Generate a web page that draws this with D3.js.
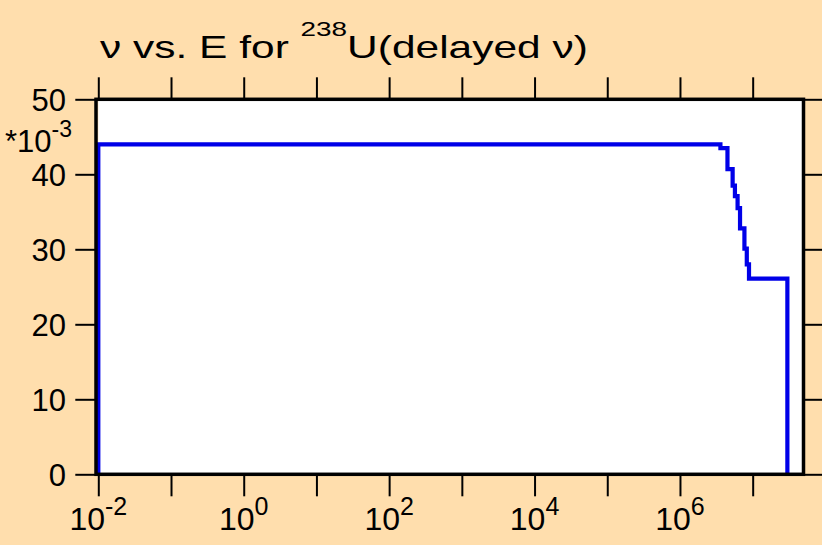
<!DOCTYPE html>
<html>
<head>
<meta charset="utf-8">
<script src="https://cdn.jsdelivr.net/npm/d3@7"></script>
<style>
  body { margin: 0; background: #FFDEAD; }
  text { font-family: "Liberation Sans", Arial, sans-serif; fill: #000; }
</style>
</head>
<body>
<svg id="chart" width="822" height="545"></svg>
<script>
// bin edges (eV) and delayed nu in each bin
var energyEdges = [1e-2, 3.6e6, 4.5e6, 5.3e6, 5.7e6, 6.2e6, 6.7e6, 7.7e6, 8.3e6, 8.9e6, 3e7];
var nuValues = [0.0440, 0.0435, 0.0407, 0.0385, 0.0371, 0.0355, 0.0328, 0.0301, 0.0280, 0.0261];
var xTickExps = [-2, -1, 0, 1, 2, 3, 4, 5, 6, 7];
var xLabelExps = [-2, 0, 2, 4, 6];
var yTicks = [0, 10, 20, 30, 40, 50];

var svg = d3.select("#chart");
var pLeft = 98.3, pRight = 803.5, pTop = 99.3, pBottom = 474.3;

var x = d3.scaleLog().domain([1e-2, 5e7]).range([pLeft, pRight]);
var y = d3.scaleLinear().domain([0, 0.05]).range([pBottom, pTop]);

svg.append("rect")
    .attr("x", pLeft).attr("y", pTop)
    .attr("width", pRight - pLeft).attr("height", pBottom - pTop)
    .attr("fill", "#fff");

// step outline built from the bins
var pts = [[energyEdges[0], 0]];
nuValues.forEach(function(v, i) {
    pts.push([energyEdges[i], v]);
    pts.push([energyEdges[i + 1], v]);
});
pts.push([energyEdges[energyEdges.length - 1], 0]);

var line = d3.line()
    .x(function(d) { return x(d[0]); })
    .y(function(d) { return y(d[1]); });

svg.append("path")
    .datum(pts)
    .attr("d", line)
    .attr("fill", "none")
    .attr("stroke", "#0000e8")
    .attr("stroke-width", 4.2)
    .attr("stroke-linejoin", "miter");

var decades = xTickExps.map(function(e) { return Math.pow(10, e); });
var yTickVals = yTicks.map(function(d) { return d / 1000; });

function styleAxis(g) {
    g.select(".domain").remove();
    g.selectAll(".tick line").attr("stroke", "#000").attr("stroke-width", 2);
}

svg.append("g")
    .attr("transform", "translate(0," + (pBottom + 1) + ")")
    .call(d3.axisBottom(x).tickValues(decades).tickSize(21).tickFormat(""))
    .call(styleAxis);

svg.append("g")
    .attr("transform", "translate(0," + (pTop - 1) + ")")
    .call(d3.axisTop(x).tickValues(decades).tickSize(21).tickFormat(""))
    .call(styleAxis);

svg.append("g")
    .attr("transform", "translate(" + (pLeft - 2) + ",0)")
    .call(d3.axisLeft(y).tickValues(yTickVals).tickSize(21).tickFormat(""))
    .call(styleAxis);

svg.append("g")
    .attr("transform", "translate(" + (pRight + 1) + ",0)")
    .call(d3.axisRight(y).tickValues(yTickVals).tickSize(21).tickFormat(""))
    .call(styleAxis);

// frame
svg.append("rect")
    .attr("x", pLeft - 2.3).attr("y", pTop)
    .attr("width", pRight - pLeft + 2.3).attr("height", pBottom - pTop)
    .attr("fill", "none")
    .attr("stroke", "#000")
    .attr("stroke-width", 3.5);

// x labels 10^n
var xl = svg.append("g").selectAll("text")
    .data(xLabelExps)
    .enter().append("text")
    .attr("y", 530)
    .attr("font-size", 32);
xl.append("tspan").text("10");
xl.append("tspan").attr("font-size", 25).attr("dy", -15).text(function(d) { return d; });
xl.each(function(d) {
    var w = this.getComputedTextLength();
    d3.select(this).attr("x", x(Math.pow(10, d)) - w / 2);
});

// y labels
svg.append("g").selectAll("text")
    .data(yTicks)
    .enter().append("text")
    .attr("x", 66)
    .attr("y", function(d) { return y(d / 1000) + 11.5; })
    .attr("text-anchor", "end")
    .attr("font-size", 31)
    .text(function(d) { return d; });

// multiplier
var mult = svg.append("text").attr("x", 5).attr("y", 152).attr("font-size", 31);
mult.append("tspan").text("*10");
mult.append("tspan").attr("font-size", 23).attr("dy", -15).text("-3");

// title
var tg = svg.append("g");
var title = tg.append("text").attr("x", 0).attr("y", 0).attr("font-size", 32);
title.append("tspan").text("\u03bd vs. E for ");
title.append("tspan").attr("font-size", 21).attr("dy", -22).text("238");
title.append("tspan").attr("dy", 22).text("U(delayed \u03bd)");
var tw = title.node().getBBox().width;
tg.attr("transform", "translate(100,57.7) scale(" + (488 / tw) + ",1)");
</script>
</body>
</html>
